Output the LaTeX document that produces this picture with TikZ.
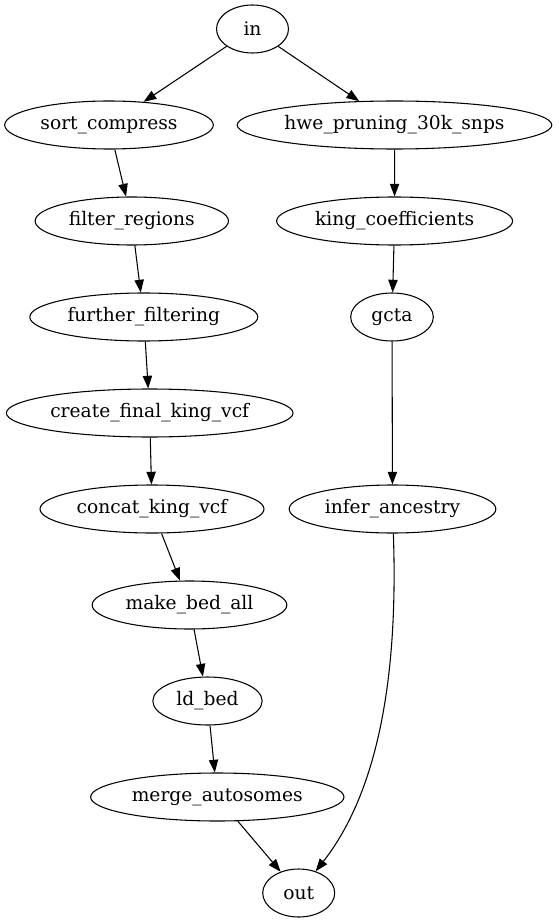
\documentclass[tikz,border=0pt]{standalone}
\usepackage{fontspec}
\setmainfont{DejaVu Serif}
\usetikzlibrary{arrows.meta,shapes.geometric}
\tikzset{
	rule/.style={draw, ellipse, minimum height=36pt, minimum width=#1, inner sep=0pt, line width=0.8pt, font=\fontsize{14}{17}\selectfont},
	dep/.style={-{Triangle[length=9.5pt,width=7pt]}, line width=0.8pt}
}

\begin{document}
\begin{tikzpicture}[x=0.75pt, y=-0.75pt]
				\useasboundingbox (0,0) rectangle (558,923);
				
				\node[rule=54pt] (in) at (252.5,29) {in};
				
				\node[rule=156.5pt] (sort_compress) at (109,125) {sort\_compress};
				\node[rule=145pt] (filter_regions) at (131.8,221) {filter\_regions};
				\node[rule=171pt] (further_filtering) at (143.8,317) {further\_filtering};
				\node[rule=215pt] (create_final_king_vcf) at (149.7,413) {create\_final\_king\_vcf};
				\node[rule=168pt] (concat_king_vcf) at (152,509) {concat\_king\_vcf};
				\node[rule=146pt] (make_bed_all) at (189.5,605) {make\_bed\_all};
				\node[rule=82pt] (ld_bed) at (207.5,701) {ld\_bed};
				\node[rule=190pt] (merge_autosomes) at (217.3,797) {merge\_autosomes};
				
				\node[rule=236pt] (hwe_pruning_30k_snps) at (394.5,125) {hwe\_pruning\_30k\_snps};
				\node[rule=177pt] (king_coefficients) at (394.6,221) {king\_coefficients};
				\node[rule=62pt] (gcta) at (392,317) {gcta};
				\node[rule=155pt] (infer_ancestry) at (392.5,509) {infer\_ancestry};
				
				\node[rule=54pt] (out) at (298.7,893) {out};
				
				\draw[dep] (in) -- (sort_compress);
				\draw[dep] (in) -- (hwe_pruning_30k_snps);
				\draw[dep] (sort_compress) -- (filter_regions);
				\draw[dep] (filter_regions) -- (further_filtering);
				\draw[dep] (further_filtering) -- (create_final_king_vcf);
				\draw[dep] (create_final_king_vcf) -- (concat_king_vcf);
				\draw[dep] (concat_king_vcf) -- (make_bed_all);
				\draw[dep] (make_bed_all) -- (ld_bed);
				\draw[dep] (ld_bed) -- (merge_autosomes);
				\draw[dep] (merge_autosomes) -- (out);
				\draw[dep] (hwe_pruning_30k_snps) -- (king_coefficients);
				\draw[dep] (king_coefficients) -- (gcta);
				\draw[dep] (gcta) -- (infer_ancestry);
				\draw[dep] (infer_ancestry) to[out=-88, in=52, looseness=0.85] (out);
\end{tikzpicture}
\end{document}
